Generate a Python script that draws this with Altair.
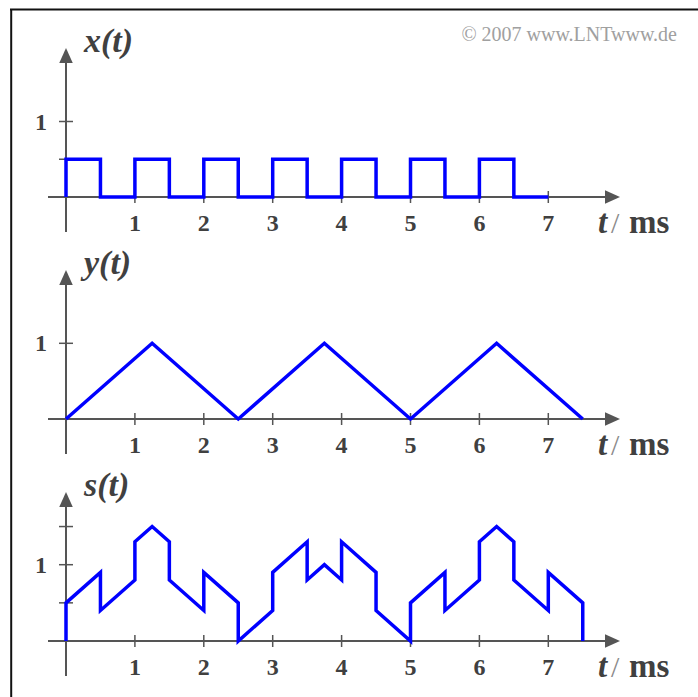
import altair as alt
import pandas as pd

# ---------------------------------------------------------------- data
# time ticks (ms)
tick_t = [1, 2, 3, 4, 5, 6, 7]

# x(t): pulse train of height 0.5 (breakpoints of the polyline)
x_t = [0, 0, 0.5, 0.5, 1, 1, 1.5, 1.5, 2, 2, 2.5, 2.5, 3, 3, 3.5, 3.5,
       4, 4, 4.5, 4.5, 5, 5, 5.5, 5.5, 6, 6, 6.5, 6.5, 7]
x_v = [0, 0.5, 0.5, 0, 0, 0.5, 0.5, 0, 0, 0.5, 0.5, 0, 0, 0.5, 0.5, 0,
       0, 0.5, 0.5, 0, 0, 0.5, 0.5, 0, 0, 0.5, 0.5, 0, 0]

# y(t): triangle wave
y_t = [0, 1.25, 2.5, 3.75, 5, 6.25, 7.5]
y_v = [0, 1, 0, 1, 0, 1, 0]

# s(t) = x(t) + y(t)
s_t = [0, 0, 0.5, 0.5, 1, 1, 1.25, 1.5, 1.5, 2, 2, 2.5, 2.5, 3, 3, 3.5,
       3.5, 3.75, 4, 4, 4.5, 4.5, 5, 5, 5.5, 5.5, 6, 6, 6.25, 6.5, 6.5,
       7, 7, 7.5, 7.5]
s_v = [0, 0.5, 0.9, 0.4, 0.8, 1.3, 1.5, 1.3, 0.8, 0.4, 0.9, 0.5, 0, 0.4,
       0.9, 1.3, 0.8, 1.0, 0.8, 1.3, 0.9, 0.4, 0, 0.5, 0.9, 0.4, 0.8, 1.3,
       1.5, 1.3, 0.8, 0.4, 0.9, 0.5, 0]

# ---------------------------------------------------------------- layout
W, H = 698, 697
T0_PX = 66.0          # pixel column of t = 0
PX_PER_MS = 68.9      # pixels per ms
AX = "#555555"
TXT = "#404040"
SERIF = "Liberation Serif"

x_scale = alt.Scale(domain=[-T0_PX / PX_PER_MS, (W - T0_PX) / PX_PER_MS],
                    nice=False, zero=False)


def tpx(px):
    """horizontal pixel -> time value"""
    return (px - T0_PX) / PX_PER_MS


def panel(t, v, name, axis_px, unit, yticks, ylabels):
    y_scale = alt.Scale(domain=[-(H - axis_px) / unit, axis_px / unit],
                        nice=False, zero=False)

    def dv(off):
        return off / unit

    X = lambda f: alt.X(f, type="quantitative", scale=x_scale, axis=None)
    Y = lambda f: alt.Y(f, type="quantitative", scale=y_scale, axis=None)

    layers = []

    # horizontal axis with arrow
    xa = pd.DataFrame({"a": [tpx(48)], "b": [tpx(606)], "v": [0]})
    layers.append(alt.Chart(xa).mark_rule(color=AX, strokeWidth=2).encode(
        x=X("a"), x2=alt.X2("b"), y=Y("v")))
    xarr = pd.DataFrame({"t": [tpx(620 - 7.5)], "v": [0]})
    layers.append(alt.Chart(xarr).mark_point(
        shape="M1,0L-1,-0.9L-1,0.9Z", filled=True, size=225, opacity=1,
        color=AX, strokeWidth=0).encode(x=X("t"), y=Y("v")))

    # vertical axis with arrow
    ya = pd.DataFrame({"t": [0], "a": [dv(-35)], "b": [dv(136)]})
    layers.append(alt.Chart(ya).mark_rule(color=AX, strokeWidth=2).encode(
        x=X("t"), y=Y("a"), y2=alt.Y2("b")))
    yarr = pd.DataFrame({"t": [0], "v": [dv(149 - 7.5)]})
    layers.append(alt.Chart(yarr).mark_point(
        shape="M0,-1L-0.9,1L0.9,1Z", filled=True, size=225, opacity=1,
        color=AX, strokeWidth=0).encode(x=X("t"), y=Y("v")))

    # time ticks and labels
    tk = pd.DataFrame({"t": tick_t, "a": [dv(-6)] * len(tick_t),
                       "b": [dv(6)] * len(tick_t),
                       "lv": [dv(-26)] * len(tick_t),
                       "lab": [str(k) for k in tick_t]})
    layers.append(alt.Chart(tk).mark_rule(color=AX, strokeWidth=1.5).encode(
        x=X("t"), y=Y("a"), y2=alt.Y2("b")))
    layers.append(alt.Chart(tk).mark_text(
        font=SERIF, fontSize=24, fontWeight="bold", color=TXT,
        align="center", baseline="middle", dy=1).encode(
        x=X("t"), y=Y("lv"), text="lab:N"))

    # value ticks and labels
    vt = pd.DataFrame({"v": yticks, "a": [tpx(59)] * len(yticks),
                       "b": [tpx(73)] * len(yticks)})
    layers.append(alt.Chart(vt).mark_rule(color=AX, strokeWidth=1.5).encode(
        x=X("a"), x2=alt.X2("b"), y=Y("v")))
    vl = pd.DataFrame({"v": ylabels, "t": [tpx(41)] * len(ylabels),
                       "lab": [f"{k:g}" for k in ylabels]})
    layers.append(alt.Chart(vl).mark_text(
        font=SERIF, fontSize=24, fontWeight="bold", color=TXT,
        align="center", baseline="middle", dy=1).encode(
        x=X("t"), y=Y("v"), text="lab:N"))

    # signal name above the vertical axis
    nm = pd.DataFrame({"t": [tpx(84)], "v": [dv(145)], "lab": [name]})
    layers.append(alt.Chart(nm).mark_text(
        font=SERIF, fontSize=34, fontWeight="bold", fontStyle="italic",
        color=TXT, align="left", baseline="alphabetic").encode(
        x=X("t"), y=Y("v"), text="lab:N"))

    # unit label  t / ms
    ul = pd.DataFrame({"t": [tpx(598), tpx(611), tpx(629)],
                       "v": [dv(-36)] * 3, "lab": ["t", "/", "ms"],
                       "k": ["a", "b", "c"]})
    layers.append(alt.Chart(ul).transform_filter("datum.k == 'a'").mark_text(
        font=SERIF, fontSize=33, fontWeight="bold", fontStyle="italic",
        color=TXT, align="left", baseline="alphabetic").encode(
        x=X("t"), y=Y("v"), text="lab:N"))
    layers.append(alt.Chart(ul).transform_filter("datum.k == 'b'").mark_text(
        font=SERIF, fontSize=30, color="#8a8a8a",
        align="left", baseline="alphabetic").encode(
        x=X("t"), y=Y("v"), text="lab:N"))
    layers.append(alt.Chart(ul).transform_filter("datum.k == 'c'").mark_text(
        font=SERIF, fontSize=33, fontWeight="bold",
        color=TXT, align="left", baseline="alphabetic").encode(
        x=X("t"), y=Y("v"), text="lab:N"))

    # the signal itself
    sig = pd.DataFrame({"t": t, "v": v, "i": list(range(len(t)))})
    layers.append(alt.Chart(sig).mark_line(
        color="#0000ff", strokeWidth=3.5, strokeJoin="miter").encode(
        x=X("t"), y=Y("v"), order="i:Q"))

    return alt.layer(*layers)


p1 = panel(x_t, x_v, "x(t)", 197, 75.5, [0.5, 1], [1])
p2 = panel(y_t, y_v, "y(t)", 419, 75.7, [1], [1])
p3 = panel(s_t, s_v, "s(t)", 641, 76.3, [0.5, 1, 1.5], [1])

one = pd.DataFrame({"k": [0]})
frame_top = alt.Chart(one).mark_rule(color="#111111", strokeWidth=2).encode(
    x=alt.value(10), x2=alt.value(W), y=alt.value(9.5))
frame_left = alt.Chart(one).mark_rule(color="#111111", strokeWidth=2).encode(
    x=alt.value(11.2), y=alt.value(9), y2=alt.value(H))
copyright = alt.Chart(one).mark_text(
    text="© 2007 www.LNTwww.de", font=SERIF, fontSize=20,
    color="#a0a0a0", align="right", baseline="alphabetic").encode(
    x=alt.value(677), y=alt.value(41))

chart = alt.layer(p1, p2, p3, frame_top, frame_left, copyright).resolve_scale(
    y="independent"
).properties(
    width=W, height=H, padding=0,
    autosize=alt.AutoSizeParams(type="none"),
    background="white",
).configure_view(stroke=None)

chart.save("out.html", embed_options={"renderer": "svg", "actions": False})
